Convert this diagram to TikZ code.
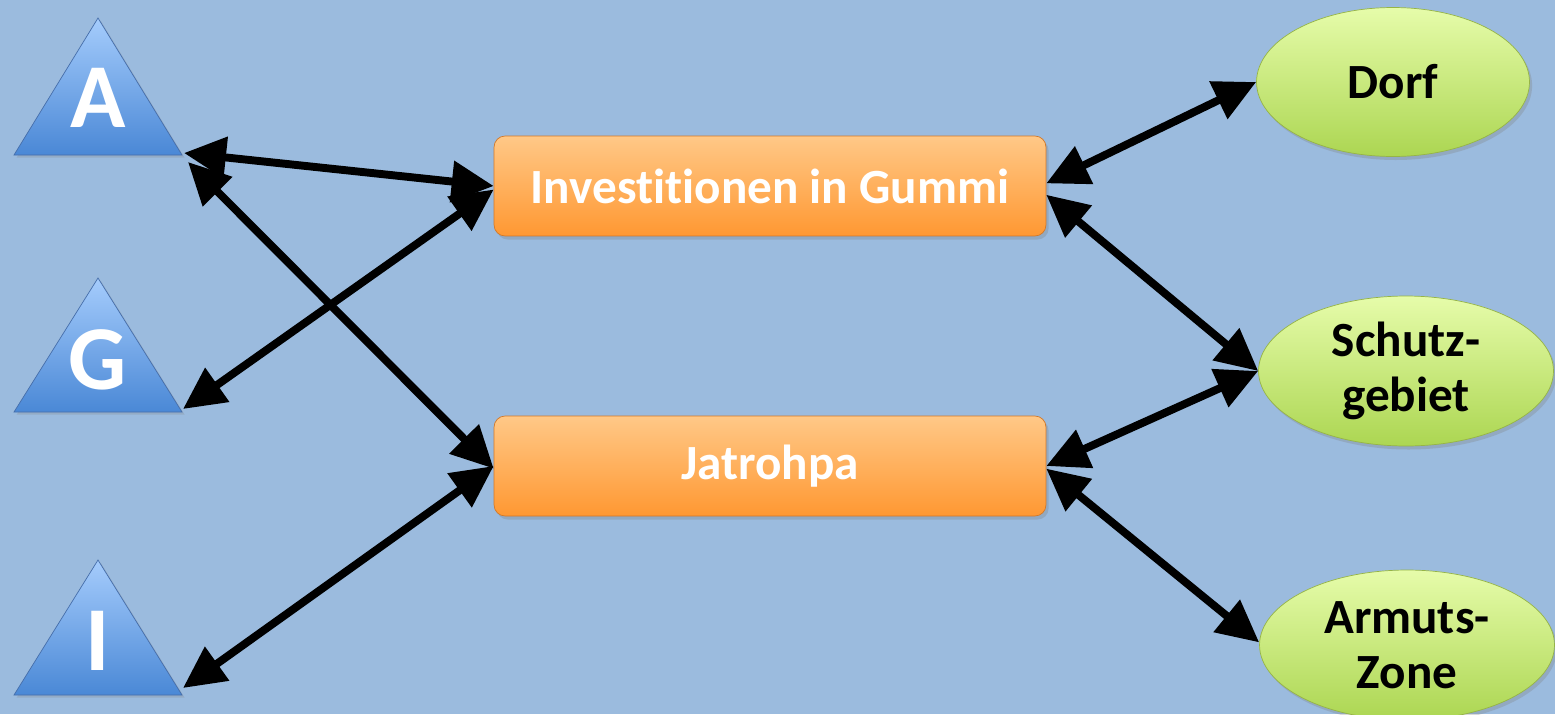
\documentclass[tikz,border=0pt]{standalone}
\usepackage{fontspec}
\setmainfont{Carlito}[Ligatures=NoCommon]
\usetikzlibrary{arrows.meta,shapes.geometric,shadows}

\definecolor{bgblue}{RGB}{155,187,222}
\definecolor{tritop}{RGB}{165,204,252}
\definecolor{tribot}{RGB}{74,136,214}
\definecolor{triedge}{RGB}{70,110,170}
\definecolor{boxtop}{RGB}{255,200,135}
\definecolor{boxbot}{RGB}{255,152,50}
\definecolor{boxedge}{RGB}{210,120,40}
\definecolor{elltop}{RGB}{230,252,170}
\definecolor{ellbot}{RGB}{172,214,82}
\definecolor{elledge}{RGB}{150,180,70}

\tikzset{
  actor/.style={top color=tritop, bottom color=tribot, draw=triedge, line width=0.4pt,
    drop shadow={opacity=0.25, shadow xshift=1.5pt, shadow yshift=-1.5pt}},
  letter/.style={text=white, font=\fontsize{52}{52}\selectfont\bfseries},
  project/.style={rectangle, rounded corners=0.22cm, minimum width=11.04cm, minimum height=2cm,
    top color=boxtop, bottom color=boxbot, draw=boxedge, line width=0.4pt,
    text=white, font=\fontsize{28}{31}\selectfont\bfseries,
    drop shadow={opacity=0.3, shadow xshift=1.5pt, shadow yshift=-2pt}},
  place/.style={ellipse, minimum width=5.9cm, minimum height=3cm, inner sep=0pt,
    top color=elltop, bottom color=ellbot, draw=elledge, line width=0.4pt,
    align=center, font=\fontsize{28}{31}\selectfont\bfseries,
    drop shadow={opacity=0.3, shadow xshift=1.5pt, shadow yshift=-2pt}},
  link/.style={{Triangle[length=0.84cm,width=0.8cm]}-{Triangle[length=0.84cm,width=0.8cm]},
    line width=4.5pt, black}
}

\begin{document}
\begin{tikzpicture}[x=0.02cm, y=-0.02cm]
\useasboundingbox (0,0) rectangle (1555,714);
\fill[bgblue] (0,0) rectangle (1555,714);

% actors on the left
\path[actor] (98,18) -- (182,155) -- (14,155) -- cycle;
\path[actor] (98,278) -- (182,412) -- (14,412) -- cycle;
\path[actor] (98,560) -- (182,695) -- (14,695) -- cycle;
\node[letter] (a) at (98,98) {A};
\node[letter] (g) at (98,360) {G};
\node[letter] (i) at (98,641) {I};
\coordinate (a-r) at (184,153);
\coordinate (a-s) at (188,162);
\coordinate (g-r) at (183,409);
\coordinate (i-r) at (183,688);

% projects
\node[project] (inv) at (770,186) {Investitionen in Gummi};
\node[project] (jat) at (770,466) {Jatrohpa};

% places
\node[place, minimum width=5.46cm, minimum height=2.98cm] (dorf) at (1393,82) {Dorf};
\node[place] (schutz) at (1406,371) {Schutz-\\gebiet};
\node[place] (armut) at (1407,645) {Armuts-\\Zone};

% links
\draw[link] (a-r) -- (inv.west);
\draw[link] (a-s) -- ([yshift=-1.5pt]jat.west);
\draw[link] (g-r) -- ([yshift=-2pt]inv.west);
\draw[link] (i-r) -- (jat.west);
\draw[link] ([yshift=1.5pt]inv.east) -- (dorf.west);
\draw[link] ([yshift=-5pt]inv.east) -- (schutz.west);
\draw[link] (jat.east) -- (schutz.west);
\draw[link] ([yshift=-1.5pt]jat.east) -- ([yshift=1.5pt]armut.west);
\end{tikzpicture}
\end{document}
